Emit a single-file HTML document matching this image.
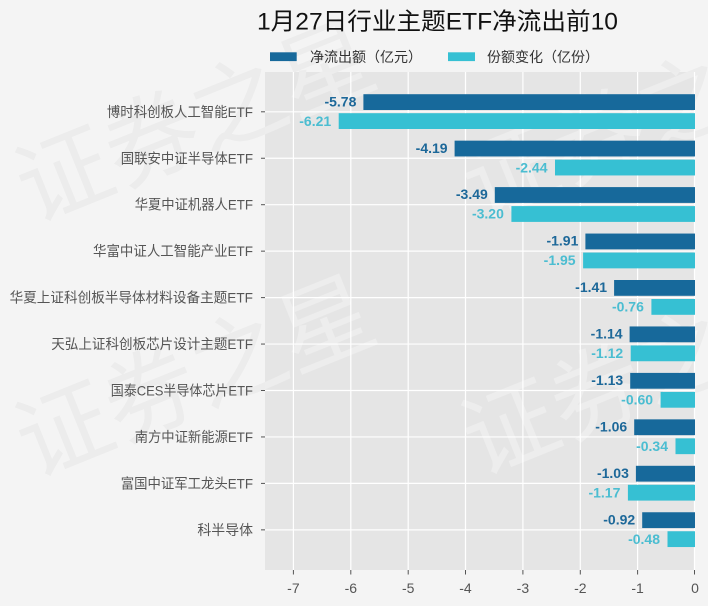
<!DOCTYPE html>
<html><head><meta charset="utf-8"><style>
html,body{margin:0;padding:0;background:#f4f4f4;width:708px;height:606px;overflow:hidden;}
svg{display:block;overflow:hidden;}
.cjk{font-family:"Liberation Sans","Noto Sans CJK SC","WenQuanYi Zen Hei",sans-serif;}
</style></head><body>
<svg width="708" height="606" viewBox="0 0 708 606" xmlns="http://www.w3.org/2000/svg" class="cjk">
<defs>
<clipPath id="pc"><rect x="265" y="72" width="430" height="498"/></clipPath>
<clipPath id="fc"><rect x="0" y="0" width="708" height="606"/></clipPath>
</defs>
<rect x="0" y="0" width="708" height="606" fill="#f4f4f4"/>
<!-- watermark outside -->
<g clip-path="url(#fc)">
<g font-size="94" fill="#000" opacity="0.035" class="cjk">
<text transform="translate(33,223) rotate(-22)">证券之星</text>
<text transform="translate(33,478) rotate(-22)">证券之星</text>
<text transform="translate(479,221) rotate(-22)">证券之</text>
<text transform="translate(479,476) rotate(-22)">证券之</text>
</g>
</g>
<!-- plot bg -->
<rect x="265" y="72" width="430" height="498" fill="#e5e5e5"/>
<g clip-path="url(#pc)" font-size="94" fill="#fff" opacity="0.3">
<text transform="translate(33,223) rotate(-22)">证券之星</text>
<text transform="translate(33,478) rotate(-22)">证券之星</text>
<text transform="translate(479,221) rotate(-22)">证券之</text>
<text transform="translate(479,476) rotate(-22)">证券之</text>
</g>
<!-- grid -->
<g stroke="#ffffff" stroke-width="1.2">
<line x1="293.4" y1="72" x2="293.4" y2="570"/>
<line x1="350.8" y1="72" x2="350.8" y2="570"/>
<line x1="408.2" y1="72" x2="408.2" y2="570"/>
<line x1="465.5" y1="72" x2="465.5" y2="570"/>
<line x1="522.9" y1="72" x2="522.9" y2="570"/>
<line x1="580.3" y1="72" x2="580.3" y2="570"/>
<line x1="637.6" y1="72" x2="637.6" y2="570"/>
<line x1="694.5" y1="72" x2="694.5" y2="570"/>
<line x1="265" y1="111.8" x2="695" y2="111.8"/>
<line x1="265" y1="158.25" x2="695" y2="158.25"/>
<line x1="265" y1="204.7" x2="695" y2="204.7"/>
<line x1="265" y1="251.15" x2="695" y2="251.15"/>
<line x1="265" y1="297.6" x2="695" y2="297.6"/>
<line x1="265" y1="344.05" x2="695" y2="344.05"/>
<line x1="265" y1="390.5" x2="695" y2="390.5"/>
<line x1="265" y1="436.95" x2="695" y2="436.95"/>
<line x1="265" y1="483.4" x2="695" y2="483.4"/>
<line x1="265" y1="529.85" x2="695" y2="529.85"/>
</g>
<!-- bars -->
<g fill="#17699b">
<rect x="363.4" y="94.2" width="331.6" height="15.8"/>
<rect x="454.6" y="140.65" width="240.4" height="15.8"/>
<rect x="494.8" y="187.1" width="200.2" height="15.8"/>
<rect x="585.4" y="233.55" width="109.6" height="15.8"/>
<rect x="614.1" y="280.0" width="80.9" height="15.8"/>
<rect x="629.6" y="326.45" width="65.4" height="15.8"/>
<rect x="630.2" y="372.9" width="64.8" height="15.8"/>
<rect x="634.2" y="419.35" width="60.8" height="15.8"/>
<rect x="635.9" y="465.8" width="59.1" height="15.8"/>
<rect x="642.2" y="512.25" width="52.8" height="15.8"/>
</g>
<g fill="#36c0d3">
<rect x="338.7" y="113.2" width="356.3" height="15.8"/>
<rect x="555.0" y="159.65" width="140.0" height="15.8"/>
<rect x="511.4" y="206.1" width="183.6" height="15.8"/>
<rect x="583.1" y="252.55" width="111.9" height="15.8"/>
<rect x="651.4" y="299.0" width="43.6" height="15.8"/>
<rect x="630.7" y="345.45" width="64.3" height="15.8"/>
<rect x="660.6" y="391.9" width="34.4" height="15.8"/>
<rect x="675.5" y="438.35" width="19.5" height="15.8"/>
<rect x="627.9" y="484.8" width="67.1" height="15.8"/>
<rect x="667.5" y="531.25" width="27.5" height="15.8"/>
</g>
<!-- value labels -->
<g font-family="Liberation Sans, sans-serif" font-weight="bold" font-size="14" text-anchor="end" fill="#1d6899">
<text x="356.4" y="106.3">-5.78</text>
<text x="447.6" y="152.75">-4.19</text>
<text x="487.8" y="199.2">-3.49</text>
<text x="578.4" y="245.65">-1.91</text>
<text x="607.1" y="292.1">-1.41</text>
<text x="622.6" y="338.55">-1.14</text>
<text x="623.2" y="385.0">-1.13</text>
<text x="627.2" y="431.45">-1.06</text>
<text x="628.9" y="477.9">-1.03</text>
<text x="635.2" y="524.35">-0.92</text>
</g>
<g font-family="Liberation Sans, sans-serif" font-weight="bold" font-size="14" text-anchor="end" fill="#4bbdd1">
<text x="331.2" y="125.8">-6.21</text>
<text x="547.5" y="172.25">-2.44</text>
<text x="503.9" y="218.7">-3.20</text>
<text x="575.6" y="265.15">-1.95</text>
<text x="643.9" y="311.6">-0.76</text>
<text x="623.2" y="358.05">-1.12</text>
<text x="653.1" y="404.5">-0.60</text>
<text x="668.0" y="450.95">-0.34</text>
<text x="620.4" y="497.4">-1.17</text>
<text x="660.0" y="543.85">-0.48</text>
</g>
<!-- tick marks -->
<g stroke="#555" stroke-width="1">
<line x1="261" y1="111.8" x2="265" y2="111.8"/>
<line x1="261" y1="158.25" x2="265" y2="158.25"/>
<line x1="261" y1="204.7" x2="265" y2="204.7"/>
<line x1="261" y1="251.15" x2="265" y2="251.15"/>
<line x1="261" y1="297.6" x2="265" y2="297.6"/>
<line x1="261" y1="344.05" x2="265" y2="344.05"/>
<line x1="261" y1="390.5" x2="265" y2="390.5"/>
<line x1="261" y1="436.95" x2="265" y2="436.95"/>
<line x1="261" y1="483.4" x2="265" y2="483.4"/>
<line x1="261" y1="529.85" x2="265" y2="529.85"/>
<line x1="293.4" y1="570" x2="293.4" y2="574.5"/>
<line x1="350.8" y1="570" x2="350.8" y2="574.5"/>
<line x1="408.2" y1="570" x2="408.2" y2="574.5"/>
<line x1="465.5" y1="570" x2="465.5" y2="574.5"/>
<line x1="522.9" y1="570" x2="522.9" y2="574.5"/>
<line x1="580.3" y1="570" x2="580.3" y2="574.5"/>
<line x1="637.6" y1="570" x2="637.6" y2="574.5"/>
<line x1="694.5" y1="570" x2="694.5" y2="574.5"/>
</g>
<!-- y labels -->
<g font-size="14" fill="#555" class="cjk">
<text x="106.9" y="116.8" textLength="146.1" lengthAdjust="spacingAndGlyphs">博时科创板人工智能ETF</text>
<text x="120.8" y="163.25" textLength="132.2" lengthAdjust="spacingAndGlyphs">国联安中证半导体ETF</text>
<text x="134.7" y="209.7" textLength="118.3" lengthAdjust="spacingAndGlyphs">华夏中证机器人ETF</text>
<text x="93.0" y="256.15" textLength="160" lengthAdjust="spacingAndGlyphs">华富中证人工智能产业ETF</text>
<text x="9.6" y="302.6" textLength="243.4" lengthAdjust="spacingAndGlyphs">华夏上证科创板半导体材料设备主题ETF</text>
<text x="51.3" y="349.05" textLength="201.7" lengthAdjust="spacingAndGlyphs">天弘上证科创板芯片设计主题ETF</text>
<text x="110.7" y="395.5" textLength="142.3" lengthAdjust="spacingAndGlyphs">国泰CES半导体芯片ETF</text>
<text x="134.7" y="441.95" textLength="118.3" lengthAdjust="spacingAndGlyphs">南方中证新能源ETF</text>
<text x="120.8" y="488.4" textLength="132.2" lengthAdjust="spacingAndGlyphs">富国中证军工龙头ETF</text>
<text x="197.4" y="534.85" textLength="55.6" lengthAdjust="spacingAndGlyphs">科半导体</text>
</g>
<!-- x labels -->
<g font-family="Liberation Sans, sans-serif" font-size="14" fill="#555" text-anchor="middle">
<text x="293.4" y="593">-7</text>
<text x="350.8" y="593">-6</text>
<text x="408.2" y="593">-5</text>
<text x="465.5" y="593">-4</text>
<text x="522.9" y="593">-3</text>
<text x="580.3" y="593">-2</text>
<text x="637.6" y="593">-1</text>
<text x="695" y="593">0</text>
</g>
<!-- title -->
<text x="257" y="29.5" font-size="24" fill="#111" class="cjk" textLength="361" lengthAdjust="spacingAndGlyphs">1月27日行业主题ETF净流出前10</text>
<!-- legend -->
<rect x="270" y="52.3" width="26.7" height="8.8" fill="#17699b"/>
<text x="310" y="62" font-size="14" fill="#333" class="cjk">净流出额（亿元）</text>
<rect x="448" y="52.3" width="27" height="8.8" fill="#36c0d3"/>
<text x="487" y="62" font-size="14" fill="#333" class="cjk">份额变化（亿份）</text>
</svg>
</body></html>
